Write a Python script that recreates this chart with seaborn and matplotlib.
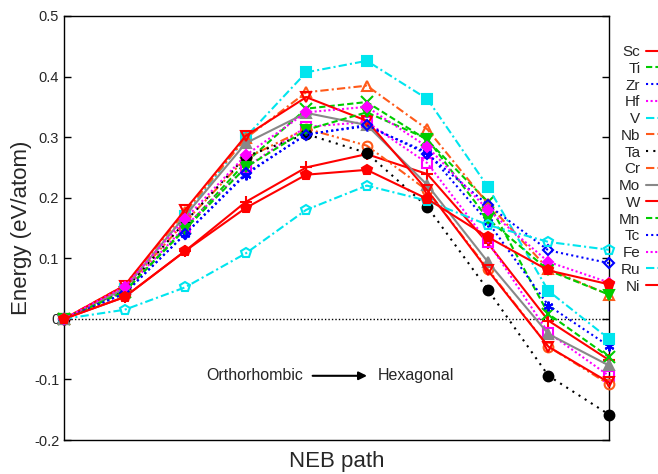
import numpy as np
import pandas as pd
import matplotlib
matplotlib.use("Agg")
import matplotlib.pyplot as plt
import seaborn as sns

# ---- data ----
steps = list(range(10))
Sc = [0, 0.036, 0.112, 0.193, 0.250, 0.272, 0.239, 0.125, -0.003, -0.068]
Ti = [0, 0.045, 0.150, 0.258, 0.347, 0.358, 0.295, 0.193, 0.008, -0.063]
Zr = [0, 0.042, 0.140, 0.238, 0.305, 0.318, 0.275, 0.160, 0.022, -0.045]
Hf = [0, 0.047, 0.152, 0.250, 0.317, 0.325, 0.257, 0.127, -0.023, -0.094]
V  = [0, 0.050, 0.170, 0.300, 0.407, 0.426, 0.363, 0.218, 0.046, -0.033]
Nb = [0, 0.050, 0.160, 0.265, 0.314, 0.286, 0.212, 0.082, -0.046, -0.108]
Ta = [0, 0.048, 0.160, 0.268, 0.305, 0.274, 0.185, 0.048, -0.094, -0.158]
Cr = [0, 0.055, 0.176, 0.298, 0.374, 0.385, 0.313, 0.190, 0.082, 0.040]
Mo = [0, 0.050, 0.170, 0.290, 0.340, 0.320, 0.221, 0.094, -0.025, -0.077]
W  = [0, 0.055, 0.180, 0.302, 0.366, 0.327, 0.212, 0.080, -0.046, -0.105]
Mn = [0, 0.045, 0.148, 0.250, 0.312, 0.341, 0.297, 0.165, 0.080, 0.040]
Tc = [0, 0.042, 0.140, 0.240, 0.304, 0.320, 0.272, 0.188, 0.113, 0.092]
Fe = [0, 0.053, 0.165, 0.270, 0.341, 0.350, 0.284, 0.180, 0.094, 0.060]
Ru = [0, 0.015, 0.052, 0.108, 0.180, 0.220, 0.195, 0.155, 0.127, 0.114]
Ni = [0, 0.036, 0.112, 0.183, 0.238, 0.246, 0.198, 0.135, 0.080, 0.057]

names = ['Sc', 'Ti', 'Zr', 'Hf', 'V', 'Nb', 'Ta', 'Cr', 'Mo', 'W', 'Mn', 'Tc', 'Fe', 'Ru', 'Ni']
series = [Sc, Ti, Zr, Hf, V, Nb, Ta, Cr, Mo, W, Mn, Tc, Fe, Ru, Ni]
yticks = [-0.2, -0.1, 0, 0.1, 0.2, 0.3, 0.4, 0.5]
ytick_labels = ['-0.2', '-0.1', '0', '0.1', '0.2', '0.3', '0.4', '0.5']

# ---- styles ----
RED, GRN, BLU, MAG, CYN, ORG, BLK, GRY = '#ff0000', '#00cc00', '#0000ff', '#ff00ff', '#00e5ee', '#ff5a1a', '#000000', '#888888'
styles = {
    'Sc': dict(color=RED, ls='-', marker='+', filled=True),
    'Ti': dict(color=GRN, ls=(0, (3, 1.5)), marker='x', filled=True),
    'Zr': dict(color=BLU, ls=(0, (1, 1.5)), marker=(6, 2, 0), filled=True),
    'Hf': dict(color=MAG, ls=(0, (1, 1.2)), marker='s', filled=False),
    'V':  dict(color=CYN, ls=(0, (4, 1.5, 1, 1.5)), marker='s', filled=True),
    'Nb': dict(color=ORG, ls=(0, (4, 1.5, 1, 1.5, 1, 1.5)), marker='o', filled=False),
    'Ta': dict(color=BLK, ls=(0, (1, 2.5)), marker='o', filled=True),
    'Cr': dict(color=ORG, ls=(0, (4, 1.5, 1, 1.5)), marker='^', filled=False),
    'Mo': dict(color=GRY, ls='-', marker='^', filled=True),
    'W':  dict(color=RED, ls='-', marker='v', filled=False),
    'Mn': dict(color=GRN, ls=(0, (3, 1.5)), marker='v', filled=True),
    'Tc': dict(color=BLU, ls=(0, (1, 1.5)), marker='D', filled=False),
    'Fe': dict(color=MAG, ls=(0, (1, 1.2)), marker='D', filled=True),
    'Ru': dict(color=CYN, ls=(0, (4, 1.5, 1, 1.5)), marker='p', filled=False),
    'Ni': dict(color=RED, ls='-', marker='p', filled=True),
}

sns.set_theme(style='ticks')
plt.rcParams['font.family'] = ['Liberation Sans', 'DejaVu Sans']

fig = plt.figure(figsize=(6.58, 4.74), dpi=100)
ax = fig.add_axes([64 / 658, 1 - 440 / 474, (609 - 64) / 658, (440 - 16) / 474])

ax.axhline(0, color='black', ls=(0, (1, 1.5)), lw=1.0, zorder=1)

for name, vals in zip(names, series):
    st = styles[name]
    ms = 7 if st['marker'] not in ('D',) else 5.5
    if st['marker'] in ('+', 'x'):
        ms = 9
    df = pd.DataFrame({'step': steps, 'E': vals})
    sns.lineplot(data=df, x='step', y='E', ax=ax, color=st['color'], linestyle=st['ls'],
                 lw=1.5, marker=st['marker'], markersize=ms,
                 markerfacecolor=st['color'] if st['filled'] else 'none',
                 markeredgecolor=st['color'], markeredgewidth=1.5,
                 label=name, clip_on=False, zorder=3)

ax.set_xlim(0, 9)
ax.set_ylim(-0.2, 0.5)
ax.set_yticks(yticks)
ax.set_yticklabels(ytick_labels)
ax.set_xticks([])
ax.tick_params(axis='y', direction='in', length=5, width=1, labelsize=10.5, right=True, color='black')
for sp in ax.spines.values():
    sp.set_color('black')
    sp.set_linewidth(1.0)
ax.set_xlabel('NEB path', fontsize=16, labelpad=8)
ax.set_ylabel('Energy (eV/atom)', fontsize=16, labelpad=1)

# annotation
ax.annotate('', xy=(5.05, -0.094), xytext=(4.06, -0.094),
            arrowprops=dict(arrowstyle='-|>', color='black', lw=1.5, mutation_scale=12))
ax.text(3.95, -0.094, 'Orthorhombic', ha='right', va='center', fontsize=11.5)
ax.text(5.18, -0.094, 'Hexagonal', ha='left', va='center', fontsize=11.5)

leg = ax.legend(loc='upper right', bbox_to_anchor=(1.052, 0.905), bbox_transform=fig.transFigure,
                frameon=False, markerfirst=False, fontsize=11, handlelength=3.0,
                handletextpad=0.4, labelspacing=0.18, borderpad=0, borderaxespad=0)

fig.savefig('out.png', dpi=100)
